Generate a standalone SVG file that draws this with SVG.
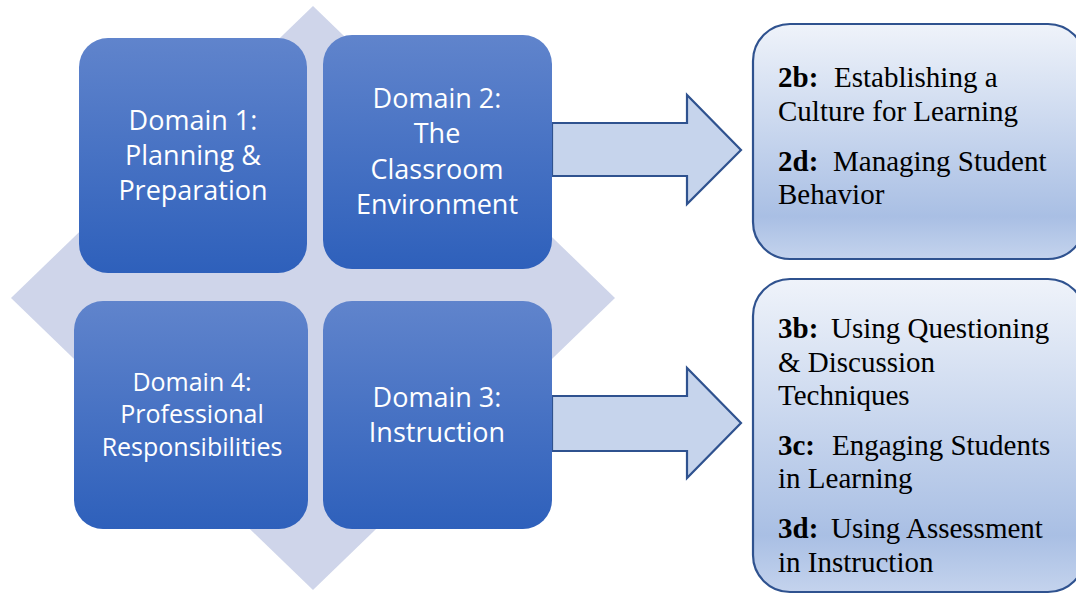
<svg xmlns="http://www.w3.org/2000/svg" width="1076" height="594" viewBox="0 0 1076 594">
<defs>
<linearGradient id="gDom" x1="0" y1="0" x2="0" y2="1">
<stop offset="0" stop-color="#6084cc"/>
<stop offset="1" stop-color="#2e60bb"/>
</linearGradient>
<linearGradient id="gBox" x1="0" y1="0" x2="0" y2="1">
<stop offset="0" stop-color="#eff3fa"/>
<stop offset="0.82" stop-color="#a9bfe4"/>
<stop offset="1" stop-color="#c4d3ed"/>
</linearGradient>
<style>
.dom{fill:url(#gDom);}
.dt{font-family:"Open Sans","Noto Sans",sans-serif;font-size:27px;fill:#ffffff;text-anchor:middle;}
.dt4{font-size:25px;}
.box{fill:url(#gBox);stroke:#2f528f;stroke-width:2.2;}
.bt{font-family:"Liberation Serif","Times New Roman",serif;font-size:29px;fill:#000000;}
.b{font-weight:bold;}
.arr{fill:#c6d4ec;stroke:#2f528f;stroke-width:2.2;stroke-linejoin:miter;}
</style>
</defs>
<rect width="1076" height="594" fill="#ffffff"/>
<polygon id="diamond" points="313,6 615,298 313,590 11,298" fill="#cfd5ea"/>
<g id="connectors">
<polygon class="arr" points="552,123 687,123 687,95 741,150 687,204 687,176 552,176"/>
<polygon class="arr" points="552,396 687,396 687,368 741,423 687,478 687,451 552,451"/>
</g>
<g id="domain1">
<rect class="dom" x="79" y="38" width="228" height="235" rx="29"/>
<text class="dt" x="193" y="130">Domain 1:</text>
<text class="dt" x="193" y="165">Planning &amp;</text>
<text class="dt" x="193" y="200">Preparation</text>
</g>
<g id="domain2">
<rect class="dom" x="323" y="35" width="229" height="234" rx="29"/>
<text class="dt" x="437" y="108">Domain 2:</text>
<text class="dt" x="437" y="143">The</text>
<text class="dt" x="437" y="179">Classroom</text>
<text class="dt" x="437" y="214">Environment</text>
</g>
<g id="domain4">
<rect class="dom" x="74" y="301" width="234" height="228" rx="29"/>
<text class="dt dt4" x="192" y="391">Domain 4:</text>
<text class="dt dt4" x="192" y="423">Professional</text>
<text class="dt dt4" x="192" y="456">Responsibilities</text>
</g>
<g id="domain3">
<rect class="dom" x="323" y="301" width="229" height="228" rx="29"/>
<text class="dt" x="437" y="407">Domain 3:</text>
<text class="dt" x="437" y="442">Instruction</text>
</g>
<g id="box2">
<rect class="box" x="753" y="24" width="332" height="235" rx="37"/>
<text class="bt" y="87"><tspan class="b" x="778">2b:</tspan><tspan x="834">Establishing a</tspan></text>
<text class="bt" x="778" y="121">Culture for Learning</text>
<text class="bt" y="171"><tspan class="b" x="778">2d:</tspan><tspan x="833">Managing Student</tspan></text>
<text class="bt" x="778" y="204">Behavior</text>
</g>
<g id="box3">
<rect class="box" x="753" y="279" width="332" height="313" rx="37"/>
<text class="bt" y="338"><tspan class="b" x="778">3b:</tspan><tspan x="831">Using Questioning</tspan></text>
<text class="bt" x="778" y="372">&amp; Discussion</text>
<text class="bt" x="778" y="405">Techniques</text>
<text class="bt" y="455"><tspan class="b" x="778">3c:</tspan><tspan x="832">Engaging Students</tspan></text>
<text class="bt" x="778" y="488">in Learning</text>
<text class="bt" y="538"><tspan class="b" x="778">3d:</tspan><tspan x="831">Using Assessment</tspan></text>
<text class="bt" x="778" y="572">in Instruction</text>
</g>
</svg>
